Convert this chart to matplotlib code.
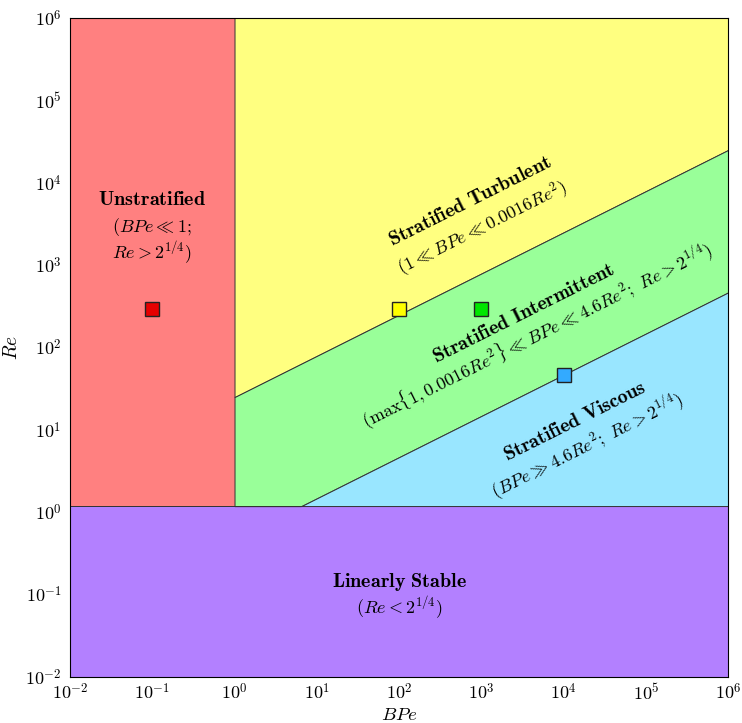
import numpy as np
import matplotlib.pyplot as plt

plt.rcParams['mathtext.fontset'] = 'cm'

# regime boundaries
re_crit = 2 ** 0.25
c_turb = 0.0016
c_visc = 4.6

# simulation runs (BPe, Re)
run_bpe = [0.1, 100, 1000, 1e4]
run_re = [290, 290, 290, 47]
run_colors = ['#e60000', '#ffff00', '#00e600', '#33aaff']

region_colors = {'unstrat': '#ff8080', 'turb': '#ffff80', 'inter': '#99ff99',
                 'visc': '#99e6ff', 'stable': '#b380ff'}

decades = [-2, -1, 0, 1, 2, 3, 4, 5, 6]

fig = plt.figure(figsize=(7.42, 7.23), dpi=100)
ax = fig.add_axes([0.0943, 0.0636, 0.887, 0.9115])
ax.set_xscale('log')
ax.set_yscale('log')

edge = dict(edgecolor='#333333', linewidth=0.7)

x = np.logspace(0, 6, 500)
re_t = np.sqrt(x / c_turb)
re_v = np.maximum(np.sqrt(x / c_visc), re_crit)

ax.fill([1e-2, 1, 1, 1e-2], [re_crit, re_crit, 1e6, 1e6], facecolor=region_colors['unstrat'], **edge)
ax.fill([1e-2, 1e6, 1e6, 1e-2], [1e-2, 1e-2, re_crit, re_crit], facecolor=region_colors['stable'], **edge)
ax.fill_between(x, re_t, 1e6, facecolor=region_colors['turb'], **edge)
ax.fill_between(x, re_v, re_t, facecolor=region_colors['inter'], **edge)
ax.fill_between(x, re_crit, re_v, facecolor=region_colors['visc'], **edge)

for bx, by, c in zip(run_bpe, run_re, run_colors):
    ax.plot(bx, by, 's', ms=10, mfc=c, mec='#222222', mew=1.0, zorder=5)

fs = 13
fb = 14.5
ang = 26.6
txt = [
    (0.1, 6300, r'$\mathbf{Unstratified}$', 0, fb),
    (0.1, 2890, r'$(BPe \ll 1;$', 0, fs),
    (0.1, 1400, r'$Re > 2^{1/4})$', 0, fs),
    (100, 0.142, r'$\mathbf{Linearly\ Stable}$', 0, fb),
    (100, 0.0687, r'$(Re < 2^{1/4})$', 0, fs),
    (735, 5980, r'$\mathbf{Stratified\ Turbulent}$', ang, fb),
    (1030, 2735, r'$(1 \ll BPe \ll 0.0016Re^2)$', ang, fs),
    (3245, 261, r'$\mathbf{Stratified\ Intermittent}$', ang, fb),
    (4800, 141, r'$(\max\{1, 0.0016Re^2\} \ll BPe \ll 4.6Re^2;\ Re > 2^{1/4})$', ang, fs),
    (13900, 12.8, r'$\mathbf{Stratified\ Viscous}$', ang, fb),
    (19500, 6.36, r'$(BPe \gg 4.6Re^2;\ Re > 2^{1/4})$', ang, fs),
]
for tx, ty, s, r, f in txt:
    ax.text(tx, ty, s, fontsize=f, ha='center', va='center', rotation=r,
            rotation_mode='anchor', zorder=6)

ax.set_xlim(1e-2, 1e6)
ax.set_ylim(1e-2, 1e6)
ticks = [10.0 ** d for d in decades]
labels = [r'$10^{%d}$' % d for d in decades]
ax.set_xticks(ticks)
ax.set_xticklabels(labels)
ax.set_yticks(ticks)
ax.set_yticklabels(labels)
ax.minorticks_off()
ax.tick_params(length=0, labelsize=13)
ax.tick_params(axis='x', pad=4)
ax.tick_params(axis='y', pad=6)
ax.set_xlabel(r'$BPe$', fontsize=13.5)
ax.set_ylabel(r'$Re$', fontsize=14)
ax.xaxis.set_label_coords(0.5, -0.042)
ax.yaxis.set_label_coords(-0.074, 0.5)

plt.savefig('out.png', dpi=100)
